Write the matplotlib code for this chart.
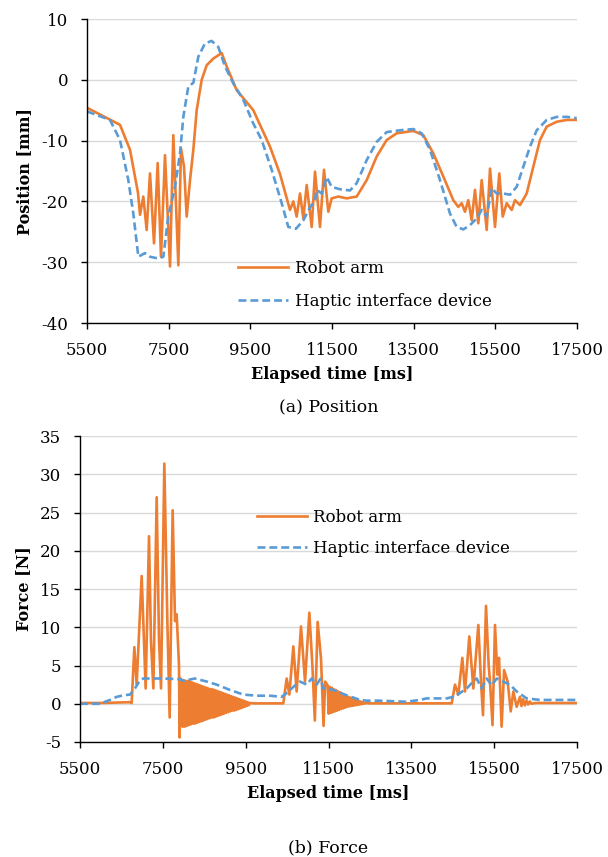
import matplotlib
matplotlib.use('Agg')
from matplotlib import pyplot as plt

plt.rcParams['font.family'] = ['DejaVu Serif']
plt.rcParams['axes.unicode_minus'] = False

# position [mm]
pos_t_robot = [5500, 6308, 6553, 6749, 6798, 6879, 6961, 7043, 7141, 7231, 7312, 7410, 7533, 7614,
               7737, 7802, 7876, 7941, 8023, 8104, 8186, 8309, 8431, 8594, 8799, 8921, 9166, 9573,
               9982, 10227, 10471, 10553, 10635, 10716, 10798, 10880, 11003, 11084, 11206, 11304,
               11410, 11492, 11655, 11860, 12105, 12350, 12595, 12840, 13085, 13491, 13736, 13981,
               14226, 14471, 14593, 14676, 14757, 14838, 14921, 15002, 15083, 15166, 15289, 15370,
               15492, 15597, 15681, 15778, 15901, 15982, 16104, 16268, 16430, 16594, 16758, 17003,
               17248, 17493]
pos_robot = [-4.6, -7.4, -11.5, -18.6, -22.2, -19.2, -24.7, -15.4, -26.9, -13.7, -29.1, -12.4, -30.7, -9.1,
             -30.5, -11.3, -14.3, -22.5, -16.5, -11.5, -5.0, 0.0, 2.4, 3.5, 4.4, 2.2, -1.7, -5.0,
             -11.0, -15.5, -21.4, -20.0, -22.5, -18.7, -22.8, -17.3, -24.2, -15.1, -24.2, -14.8,
             -21.7, -19.5, -19.2, -19.5, -19.2, -16.5, -12.6, -9.9, -8.8, -8.4, -9.1, -12.1,
             -15.9, -19.8, -20.9, -20.3, -21.7, -19.8, -23.1, -18.1, -23.6, -16.5, -24.7, -14.6,
             -24.2, -15.4, -22.5, -20.3, -21.4, -19.8, -20.6, -18.7, -14.3, -9.9, -7.7, -6.9,
             -6.6, -6.6]

pos_t_haptic = [5500, 6063, 6308, 6512, 6634, 6757, 6920, 7043, 7247, 7369, 7491, 7655, 7778, 7859,
                7981, 8104, 8226, 8390, 8553, 8716, 8880, 9084, 9328, 9573, 9778, 10023, 10268,
                10430, 10618, 10798, 10961, 11084, 11125, 11247, 11370, 11492, 11696, 11941, 12105,
                12350, 12595, 12840, 13166, 13491, 13696, 13900, 14145, 14390, 14554, 14716, 14880,
                15044, 15166, 15289, 15411, 15534, 15696, 15859, 16023, 16185, 16349, 16513, 16758,
                17003, 17248, 17493]
pos_haptic = [-5.2, -6.6, -9.9, -16.5, -22.0, -29.1, -28.5, -29.1, -29.4, -29.1, -22.5, -17.6, -12.1, -6.1,
              -1.1, -0.5, 3.8, 6.0, 6.4, 5.4, 2.2, -0.6, -3.3, -7.2, -9.9, -14.8, -20.3,
              -24.2, -24.5, -23.1, -21.0, -19.8, -18.1, -18.7, -16.0, -17.6, -18.0, -18.2, -17.0,
              -13.2, -10.2, -8.6, -8.3, -8.1, -8.8, -11.5, -16.5, -22.0, -24.2, -24.6, -23.9,
              -22.8, -21.4, -22.5, -17.8, -18.7, -18.7, -18.9, -17.6, -14.3, -11.0, -8.3, -6.6,
              -6.1, -6.1, -6.3]

# force [N]
force_t_robot = [5500, 6000, 6700, 6747, 6812, 6868, 6989, 7085, 7166, 7214, 7271, 7351, 7407, 7456,
                 7536, 7609, 7665, 7737, 7794, 7834, 7890, 7905, 7925,
                 7950, 7975, 8000, 8025, 8050, 8075, 8100, 8125, 8150, 8175, 8200, 8225, 8250, 8275,
                 8300, 8325, 8350, 8375, 8400, 8425, 8450, 8475, 8500, 8525, 8550, 8575, 8600, 8625,
                 8650, 8675, 8700, 8725, 8750, 8775, 8800, 8825, 8850, 8875, 8900, 8925, 8950, 8975,
                 9000, 9025, 9050, 9075, 9100, 9125, 9150, 9175, 9200, 9225, 9250, 9275, 9300, 9325,
                 9350, 9375, 9400, 9425, 9450, 9475, 9500, 9525, 9550, 9575, 9600,
                 9700, 10409, 10490, 10554, 10651, 10731, 10836, 10933, 11037, 11110, 11170, 11238,
                 11319, 11380, 11420,
                 11480, 11505, 11530, 11555, 11580, 11605, 11630, 11655, 11680, 11705, 11730, 11755,
                 11780, 11805, 11830, 11855, 11880, 11905, 11930, 11955, 11980, 12005, 12030, 12055,
                 12080, 12105, 12130, 12155, 12180, 12205, 12230, 12255, 12280, 12305, 12330, 12355,
                 12380,
                 12500, 14474, 14554, 14635, 14731, 14796, 14900, 14997, 15118, 15182, 15230, 15303,
                 15367, 15399, 15460, 15520, 15576, 15617, 15680, 15740, 15826, 15900, 15963, 16043,
                 16124, 16160, 16200, 16240, 16280, 16320, 16360, 16400, 16500, 17500]
force_robot = [0.1, 0.1, 0.2, 0.1, 7.4, 2.5, 16.7, 2.0, 21.9, 8.1, 2.0, 27.0, 8.4, 2.0,
               31.4, 10.8, -1.8, 25.3, 10.8, 11.7, 5.0, -4.4, 3.3,
               3.1, -3.0, 3.1, -3.0, 3.0, -2.9, 3.0, -2.8, 2.9, -2.7, 2.8, -2.6, 2.7, -2.6,
               2.6, -2.5, 2.5, -2.4, 2.4, -2.3, 2.3, -2.2, 2.2, -2.1, 2.1, -2.0, 2.0, -1.9,
               1.9, -1.8, 1.9, -1.8, 1.8, -1.7, 1.7, -1.6, 1.6, -1.5, 1.5, -1.4, 1.4, -1.3,
               1.3, -1.2, 1.2, -1.1, 1.1, -1.0, 1.0, -0.9, 0.9, -0.9, 0.8, -0.8, 0.7, -0.7,
               0.6, -0.6, 0.5, -0.5, 0.4, -0.4, 0.3, -0.3, 0.2, -0.2, 0.1,
               0.05, 0.05, 3.3, 1.2, 7.5, 1.6, 10.1, 2.9, 11.9, 5.1, -2.2, 10.7,
               5.9, -2.9, 2.9,
               2.4, -1.3, 2.2, -1.2, 2.1, -1.1, 1.9, -1.0, 1.8, -0.9, 1.6, -0.8,
               1.5, -0.7, 1.3, -0.6, 1.2, -0.5, 1.0, -0.4, 0.9, -0.35, 0.8, -0.3,
               0.7, -0.25, 0.6, -0.2, 0.5, -0.15, 0.4, -0.1, 0.3, -0.05, 0.2, 0.0,
               0.1,
               0.05, 0.05, 2.5, 1.2, 6.0, 1.6, 8.8, 2.0, 10.3, 2.9, -1.5, 12.8,
               5.1, 2.9, -2.8, 10.3, 3.8, 6.0, -3.0, 4.4, 2.9, -1.0, 1.6, -0.4,
               0.9, -0.3, 0.6, -0.2, 0.4, -0.1, 0.3, 0.0, 0.1, 0.1]

force_t_haptic = [5500, 5983, 6224, 6386, 6546, 6707, 6828, 6949, 7029, 7512, 7915, 8000, 8277, 8559,
                  8800, 9122, 9443, 9766, 10088, 10370, 10490, 10651, 10812, 10973, 11094, 11214,
                  11311, 11375, 11456, 11616, 11939, 12261, 12422, 12744, 13388, 13709, 13870, 14354,
                  14514, 14675, 14837, 14957, 15078, 15198, 15320, 15440, 15561, 15721, 15882, 16044,
                  16285, 16607, 17500]
force_haptic = [0.0, 0.0, 0.5, 0.9, 1.1, 1.2, 2.0, 3.1, 3.3, 3.3, 3.2, 3.0, 3.3, 2.9,
                2.5, 1.8, 1.2, 1.05, 1.05, 0.9, 1.4, 2.2, 2.9, 2.5, 3.3, 2.5,
                3.3, 2.0, 2.0, 1.8, 1.1, 0.5, 0.4, 0.4, 0.26, 0.5, 0.7, 0.7,
                0.9, 1.4, 2.0, 2.7, 3.3, 2.0, 3.3, 2.4, 3.3, 2.9, 2.5, 1.6,
                0.7, 0.5, 0.5]

x_ticks = [5500, 7500, 9500, 11500, 13500, 15500, 17500]
labels = ['Robot arm', 'Haptic interface device']

orange = '#ED7D31'
blue = '#5B9BD5'

fig = plt.figure(figsize=(6.08, 8.57), dpi=100)
ax1 = fig.add_axes([0.1431, 0.6231, 0.8059, 0.3547])
ax2 = fig.add_axes([0.1316, 0.1342, 0.8174, 0.3570])


def style_axes(ax):
    ax.set_xlim(5500, 17500)
    ax.set_xticks(x_ticks)
    ax.grid(axis='y', color='#d9d9d9', linewidth=1.0)
    ax.set_axisbelow(True)
    for s in ['top', 'right']:
        ax.spines[s].set_visible(False)
    for s in ['left', 'bottom']:
        ax.spines[s].set_linewidth(1.0)
    ax.tick_params(direction='out', length=4.5, width=1.0, pad=9, labelsize=12)
    ax.set_xlabel('Elapsed time [ms]', fontsize=11.5, fontweight='bold', labelpad=5)


ax1.plot(pos_t_robot, pos_robot, color=orange, lw=1.9, label=labels[0])
ax1.plot(pos_t_haptic, pos_haptic, color=blue, lw=1.9, dashes=(3, 1.5), label=labels[1])
style_axes(ax1)
ax1.set_ylim(-40, 10)
ax1.set_yticks([10, 0, -10, -20, -30, -40])
ax1.set_ylabel('Position [mm]', fontsize=11.5, fontweight='bold', labelpad=6)
ax1.legend(loc='center left', bbox_to_anchor=(0.308, 0.125), frameon=False, fontsize=12,
           handlelength=3.0, handletextpad=0.4, labelspacing=0.95, borderpad=0, borderaxespad=0)

ax2.plot(force_t_robot, force_robot, color=orange, lw=1.9, label=labels[0])
ax2.plot(force_t_haptic, force_haptic, color=blue, lw=1.9, dashes=(3, 1.5), label=labels[1])
style_axes(ax2)
ax2.set_ylim(-5, 35)
ax2.set_yticks(range(-5, 36, 5))
ax2.set_ylabel('Force [N]', fontsize=11.5, fontweight='bold', labelpad=6)
ax2.legend(loc='center left', bbox_to_anchor=(0.3555, 0.683), frameon=False, fontsize=12,
           handlelength=3.0, handletextpad=0.4, labelspacing=0.85, borderpad=0, borderaxespad=0)

fig.text(0.54, 0.524, '(a) Position', ha='center', va='center', fontsize=12.5)
fig.text(0.54, 0.0105, '(b) Force', ha='center', va='center', fontsize=12.5)

fig.savefig('out.png', dpi=100)
